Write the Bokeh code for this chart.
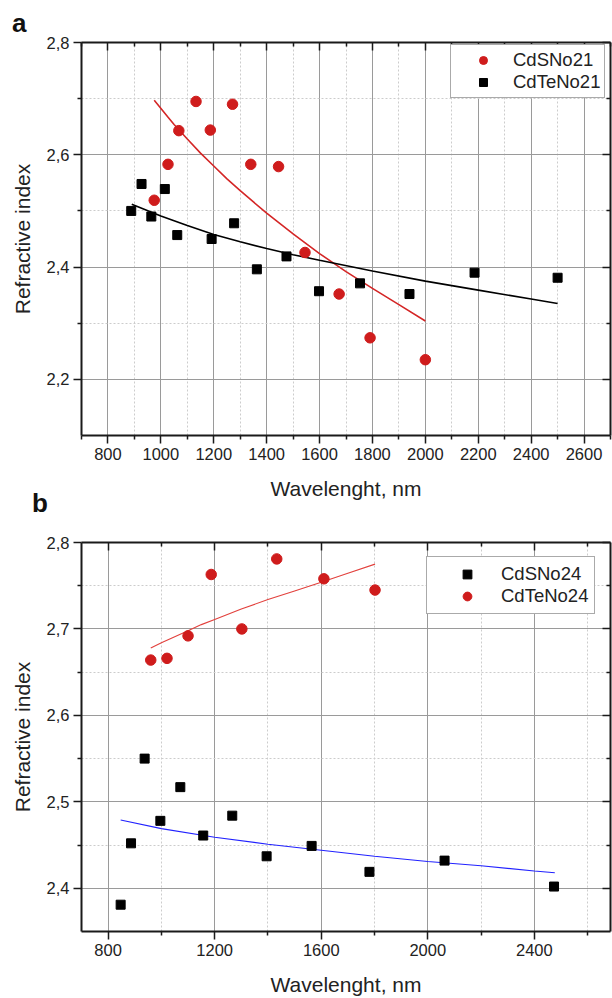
from bokeh.plotting import figure
from bokeh.models import Range1d, LinearAxis, FixedTicker, Legend, LegendItem
from bokeh.core.properties import value
from bokeh.layouts import column
from bokeh.embed import file_html
from bokeh.resources import INLINE

# ---------------- Panel a data ----------------
a_cds_x = [975, 1027, 1068, 1133, 1187, 1271, 1340, 1445, 1545, 1674, 1791, 2000]
a_cds_y = [2.519, 2.583, 2.643, 2.695, 2.644, 2.690, 2.583, 2.579, 2.426, 2.352, 2.274, 2.235]
a_cdte_x = [888, 927, 964, 1015, 1062, 1192, 1277, 1363, 1475, 1598, 1753, 1940, 2186, 2500]
a_cdte_y = [2.500, 2.548, 2.490, 2.539, 2.457, 2.450, 2.478, 2.396, 2.419, 2.357, 2.371, 2.352, 2.390, 2.381]
a_cds_fit_x = [975, 1025, 1050, 1100, 1150, 1200, 1250, 1300, 1350, 1400, 1500, 1600, 1700, 1800, 1900, 2000]
a_cds_fit_y = [2.697, 2.668, 2.654, 2.628, 2.603, 2.580, 2.557, 2.536, 2.516, 2.496, 2.459, 2.424, 2.392, 2.362, 2.333, 2.304]
a_cdte_fit_x = [890, 1000, 1100, 1200, 1300, 1400, 1500, 1600, 1800, 2000, 2200, 2400, 2500]
a_cdte_fit_y = [2.512, 2.491, 2.474, 2.458, 2.445, 2.433, 2.422, 2.412, 2.393, 2.375, 2.359, 2.343, 2.335]
a_xticks = [800, 1000, 1200, 1400, 1600, 1800, 2000, 2200, 2400, 2600]
a_xlabels = ["800", "1000", "1200", "1400", "1600", "1800", "2000", "2200", "2400", "2600"]
a_xminor = [700, 900, 1100, 1300, 1500, 1700, 1900, 2100, 2300, 2500, 2700]
a_yticks = [2.2, 2.4, 2.6, 2.8]
a_ylabels = ["2,2", "2,4", "2,6", "2,8"]
a_yminor = [2.3, 2.5, 2.7]

# ---------------- Panel b data ----------------
b_cds_x = [847, 886, 937, 996, 1071, 1157, 1266, 1395, 1564, 1781, 2063, 2474]
b_cds_y = [2.381, 2.452, 2.550, 2.478, 2.517, 2.461, 2.484, 2.437, 2.449, 2.419, 2.432, 2.402]
b_cdte_x = [960, 1021, 1100, 1187, 1302, 1433, 1610, 1802]
b_cdte_y = [2.664, 2.666, 2.692, 2.763, 2.700, 2.781, 2.758, 2.745]
b_cdte_fit_x = [960, 1000, 1050, 1100, 1150, 1200, 1300, 1400, 1500, 1600, 1700, 1802]
b_cdte_fit_y = [2.678, 2.684, 2.691, 2.698, 2.705, 2.711, 2.723, 2.734, 2.744, 2.754, 2.7645, 2.775]
b_cds_fit_x = [847, 1000, 1200, 1400, 1600, 1800, 2000, 2200, 2400, 2477]
b_cds_fit_y = [2.479, 2.469, 2.459, 2.451, 2.444, 2.437, 2.431, 2.426, 2.420, 2.418]
b_xticks = [800, 1200, 1600, 2000, 2400]
b_xlabels = ["800", "1200", "1600", "2000", "2400"]
b_xminor = [1000, 1400, 1800, 2200, 2600]
b_yticks = [2.4, 2.5, 2.6, 2.7, 2.8]
b_ylabels = ["2,4", "2,5", "2,6", "2,7", "2,8"]
b_yminor = [2.45, 2.55, 2.65, 2.75]

panel_letters = ["a", "b"]

FONT = "Liberation Sans"
RED = "#cf1c1c"


def style_panel(p, xticks, xlabels, xminor, yticks, ylabels, yminor):
    xt = FixedTicker(ticks=xticks, minor_ticks=xminor)
    yt = FixedTicker(ticks=yticks, minor_ticks=yminor)
    top = LinearAxis(ticker=xt)
    right = LinearAxis(ticker=yt)
    p.add_layout(top, "above")
    p.add_layout(right, "right")
    bx = p.below[0]
    ly = p.left[0]
    bx.ticker = xt
    ly.ticker = yt
    bx.major_label_overrides = {t: l for t, l in zip(xticks, xlabels)}
    ly.major_label_overrides = {t: l for t, l in zip(yticks, ylabels)}
    top.major_label_overrides = {t: "" for t in xticks}
    right.major_label_overrides = {t: "" for t in yticks}
    for ax in (bx, ly, top, right):
        ax.axis_line_color = "#1a1a1a"
        ax.axis_line_width = 2
        ax.major_tick_line_color = "#1a1a1a"
        ax.minor_tick_line_color = "#1a1a1a"
        ax.major_tick_line_width = 1.5
        ax.minor_tick_line_width = 1.5
        ax.major_label_text_font = FONT
        ax.major_label_text_font_size = "16.5px"
        ax.major_label_text_color = "#222222"
        ax.axis_label_text_font = FONT
        ax.axis_label_text_font_size = "21px"
        ax.axis_label_text_font_style = "normal"
        ax.axis_label_text_color = "#222222"
    for ax in (bx, ly):
        ax.major_tick_out = 8
        ax.major_tick_in = 0
        ax.minor_tick_out = 4
        ax.minor_tick_in = 0
        ax.major_label_standoff = 4
    for ax in (top, right):
        ax.major_tick_out = 0
        ax.major_tick_in = 8
        ax.minor_tick_out = 0
        ax.minor_tick_in = 4
        ax.major_label_standoff = 0
        ax.major_label_text_font_size = "0px"
    bx.axis_label = "Wavelenght, nm"
    ly.axis_label = "Refractive index"
    bx.axis_label_standoff = 14
    ly.axis_label_standoff = 10
    p.xgrid.ticker = xt
    p.ygrid.ticker = yt
    for g in (p.xgrid, p.ygrid):
        g.grid_line_color = "#9a9a9a"
        g.grid_line_width = 1
        g.minor_grid_line_color = "#cccccc"
        g.minor_grid_line_dash = "2 2"
        g.minor_grid_line_width = 1
    p.outline_line_color = None
    p.background_fill_color = "white"
    p.border_fill_color = "white"


# ---------------- Panel a ----------------
W1, H1 = 612, 518
L1, R1, T1, B1 = 77, 2, 42, 83
XR1, YR1 = (700, 2700), (2.1, 2.8)
p1 = figure(width=W1, height=H1, output_backend="svg", toolbar_location=None,
            x_range=Range1d(*XR1), y_range=Range1d(*YR1),
            min_border_left=L1, min_border_right=R1, min_border_top=T1, min_border_bottom=B1)
style_panel(p1, a_xticks, a_xlabels, a_xminor, a_yticks, a_ylabels, a_yminor)

p1.line(a_cds_fit_x, a_cds_fit_y, line_color="#d42626", line_width=1.6)
p1.line(a_cdte_fit_x, a_cdte_fit_y, line_color="black", line_width=1.6)
r_a1 = p1.scatter(a_cds_x, a_cds_y, marker="circle", size=10.5, fill_color=RED, line_color=RED)
r_a2 = p1.scatter(a_cdte_x, a_cdte_y, marker="square", size=9, fill_color="black", line_color="black")

leg1 = Legend(items=[LegendItem(label="CdSNo21", renderers=[r_a1]),
                     LegendItem(label="CdTeNo21", renderers=[r_a2])],
              location=(369, 337), orientation="vertical",
              border_line_color="#555555", border_line_width=1,
              background_fill_color="white", background_fill_alpha=1,
              label_text_font=FONT, label_text_font_size="18.5px", label_text_color="#222222",
              glyph_width=56, glyph_height=20, label_height=20, label_standoff=2,
              padding=4, spacing=0, margin=0)
p1.add_layout(leg1)


# panel letters: placed by canvas pixel, converted through panel a's ranges
def px_to_data(px, py):
    fw = W1 - L1 - R1
    fh = H1 - T1 - B1
    x = XR1[0] + (px - L1) / fw * (XR1[1] - XR1[0])
    y = YR1[1] - (py - T1) / fh * (YR1[1] - YR1[0])
    return x, y


xa, ya = px_to_data(7, 22)
xb, yb = px_to_data(27, 502)
p1.text(x=[xa, xb], y=[ya, yb], text=panel_letters, text_font=value(FONT),
        text_font_size=value("26px"), text_font_style="bold", text_color="#111111",
        text_align="left", text_baseline="alphabetic", level="overlay")

# ---------------- Panel b ----------------
p2 = figure(width=612, height=998 - H1, output_backend="svg", toolbar_location=None,
            x_range=Range1d(700, 2686), y_range=Range1d(2.35, 2.8),
            min_border_left=81, min_border_right=0, min_border_top=24, min_border_bottom=64)
style_panel(p2, b_xticks, b_xlabels, b_xminor, b_yticks, b_ylabels, b_yminor)

p2.line(b_cdte_fit_x, b_cdte_fit_y, line_color="#e2403c", line_width=1.1)
p2.line(b_cds_fit_x, b_cds_fit_y, line_color="#2222ff", line_width=1.1)
r_b1 = p2.scatter(b_cds_x, b_cds_y, marker="square", size=9, fill_color="black", line_color="black")
r_b2 = p2.scatter(b_cdte_x, b_cdte_y, marker="circle", size=10.5, fill_color=RED, line_color=RED)

leg2 = Legend(items=[LegendItem(label="CdSNo24", renderers=[r_b1]),
                     LegendItem(label="CdTeNo24", renderers=[r_b2])],
              location=(345, 317), orientation="vertical",
              border_line_color="#555555", border_line_width=1,
              background_fill_color="white", background_fill_alpha=1,
              label_text_font=FONT, label_text_font_size="18.5px", label_text_color="#222222",
              glyph_width=68, glyph_height=22, label_height=22, label_standoff=0,
              padding=6, spacing=0, margin=0)
p2.add_layout(leg2)

layout = column(p1, p2, spacing=0)
open("out.html", "w").write(file_html(layout, INLINE))
